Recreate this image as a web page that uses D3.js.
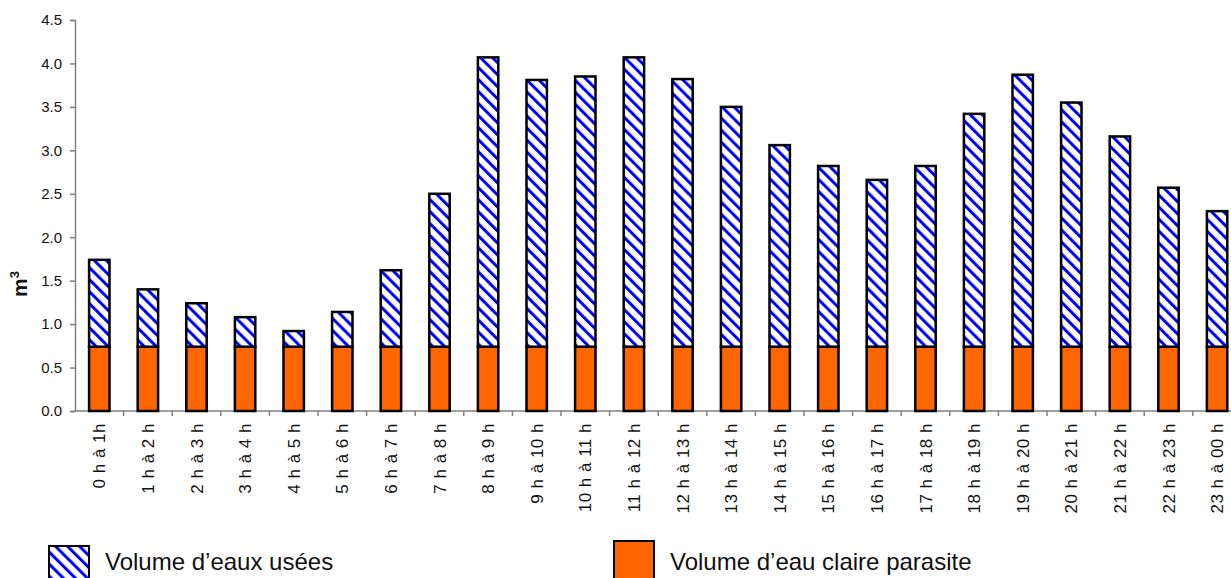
<html>
<head>
<meta charset="utf-8">
<script src="https://d3js.org/d3.v7.min.js"></script>
<style>
body { margin: 0; background: white; font-family: "Liberation Sans", Arial, sans-serif; }
</style>
</head>
<body>
<script>
// hourly slots
var hours = ["0 h à 1h", "1 h à 2 h", "2 h à 3 h", "3 h à 4 h", "4 h à 5 h", "5 h à 6 h",
  "6 h à 7 h", "7 h à 8 h", "8 h à 9 h", "9 h à 10 h", "10 h à 11 h", "11 h à 12 h",
  "12 h à 13 h", "13 h à 14 h", "14 h à 15 h", "15 h à 16 h", "16 h à 17 h", "17 h à 18 h",
  "18 h à 19 h", "19 h à 20 h", "20 h à 21 h", "21 h à 22 h", "22 h à 23 h", "23 h à 00 h"];

// volume d'eau claire parasite (m3)
var eauClaire = [0.74, 0.74, 0.74, 0.74, 0.74, 0.74, 0.74, 0.74, 0.74, 0.74, 0.74, 0.74,
  0.74, 0.74, 0.74, 0.74, 0.74, 0.74, 0.74, 0.74, 0.74, 0.74, 0.74, 0.74];

// volume d'eaux usees (m3), stacked on top
var eauxUsees = [1.00, 0.66, 0.50, 0.34, 0.18, 0.40, 0.88, 1.76, 3.33, 3.07, 3.11, 3.33,
  3.08, 2.76, 2.32, 2.08, 1.92, 2.08, 2.68, 3.13, 2.81, 2.42, 1.83, 1.56];

var yTicks = [0, 0.5, 1, 1.5, 2, 2.5, 3, 3.5, 4, 4.5];

var width = 1231, height = 578;
var mLeft = 75, mTop = 20, mBottom = 411, mRight = 1241.4;

var svg = d3.select("body").append("svg")
  .attr("width", width)
  .attr("height", height);

// hatch for the waste water series
var defs = svg.append("defs");
var pat = defs.append("pattern")
  .attr("id", "hatch")
  .attr("patternUnits", "userSpaceOnUse")
  .attr("width", 8.5)
  .attr("height", 8.5)
  .attr("patternTransform", "rotate(-45)");
pat.append("rect").attr("width", 8.5).attr("height", 8.5).attr("fill", "white");
pat.append("rect").attr("width", 3).attr("height", 8.5).attr("fill", "#0000ff");

var x = d3.scaleBand()
  .domain(hours)
  .range([mLeft, mRight])
  .paddingInner(0.58)
  .paddingOuter(0.29);

var y = d3.scaleLinear().domain([0, 4.5]).range([mBottom, mTop]);

var rows = hours.map(function(h, i) {
  return { h: h, claire: eauClaire[i], usees: eauxUsees[i] };
});
var stack = d3.stack().keys(["claire", "usees"])(rows);
var fills = { claire: "#ff6600", usees: "url(#hatch)" };

// y axis
var yAxis = svg.append("g")
  .attr("transform", "translate(" + mLeft + ",0)")
  .call(d3.axisLeft(y).tickValues(yTicks).tickFormat(d3.format(".1f")).tickSize(5).tickPadding(8));
yAxis.select(".domain").attr("stroke", "#808080").attr("stroke-width", 1.5);
yAxis.selectAll(".tick line").attr("stroke", "#808080").attr("stroke-width", 1.5);
yAxis.selectAll("text").attr("font-size", 15).attr("fill", "#111")
  .attr("font-family", "Liberation Sans, Arial, sans-serif");

// x axis: ticks on category boundaries
var step = x.step();
var xAxis = svg.append("g");
xAxis.append("line")
  .attr("x1", mLeft).attr("x2", width)
  .attr("y1", mBottom).attr("y2", mBottom)
  .attr("stroke", "#808080").attr("stroke-width", 1.5);
xAxis.selectAll(".xt")
  .data(hours)
  .enter()
  .append("line")
  .attr("class", "xt")
  .attr("x1", function(d) { return x(d) - step * 0.29 + step; })
  .attr("x2", function(d) { return x(d) - step * 0.29 + step; })
  .attr("y1", mBottom).attr("y2", mBottom + 5)
  .attr("stroke", "#808080").attr("stroke-width", 1.5);
xAxis.selectAll(".xl")
  .data(hours)
  .enter()
  .append("text")
  .attr("class", "xl")
  .attr("transform", function(d) {
    return "translate(" + (x(d) + x.bandwidth() / 2 + 6) + "," + (mBottom + 12) + ") rotate(-90)";
  })
  .attr("text-anchor", "end")
  .attr("font-size", 17)
  .attr("letter-spacing", 0.5)
  .attr("fill", "#111")
  .text(function(d) { return d; });

// bars
svg.selectAll(".serie")
  .data(stack)
  .enter()
  .append("g")
  .attr("class", "serie")
  .attr("fill", function(s) { return fills[s.key]; })
  .selectAll("rect")
  .data(function(s) { return s; })
  .enter()
  .append("rect")
  .attr("x", function(d) { return x(d.data.h); })
  .attr("y", function(d) { return y(d[1]); })
  .attr("width", x.bandwidth())
  .attr("height", function(d) { return y(d[0]) - y(d[1]); })
  .attr("stroke", "black")
  .attr("stroke-width", 2.5);

// y title
svg.append("text")
  .attr("transform", "translate(27,284) rotate(-90)")
  .attr("text-anchor", "middle")
  .attr("font-size", 21)
  .attr("font-weight", "bold")
  .attr("fill", "#111")
  .html('m<tspan dy="-8" font-size="13">3</tspan>');

// legend
var legend = [
  { label: "Volume d’eaux usées", fill: "url(#hatch)", x: 49, y: 546 },
  { label: "Volume d’eau claire parasite", fill: "#ff6600", x: 614, y: 541 }
];
var lg = svg.selectAll(".lg")
  .data(legend)
  .enter()
  .append("g")
  .attr("class", "lg");
lg.append("rect")
  .attr("x", function(d) { return d.x; })
  .attr("y", function(d) { return d.y; })
  .attr("width", 40)
  .attr("height", 40)
  .attr("fill", function(d) { return d.fill; })
  .attr("stroke", "black")
  .attr("stroke-width", 2);
lg.append("text")
  .attr("x", function(d) { return d.x + 56; })
  .attr("y", 570)
  .attr("font-size", 24)
  .attr("fill", "#111")
  .text(function(d) { return d.label; });
</script>
</body>
</html>
